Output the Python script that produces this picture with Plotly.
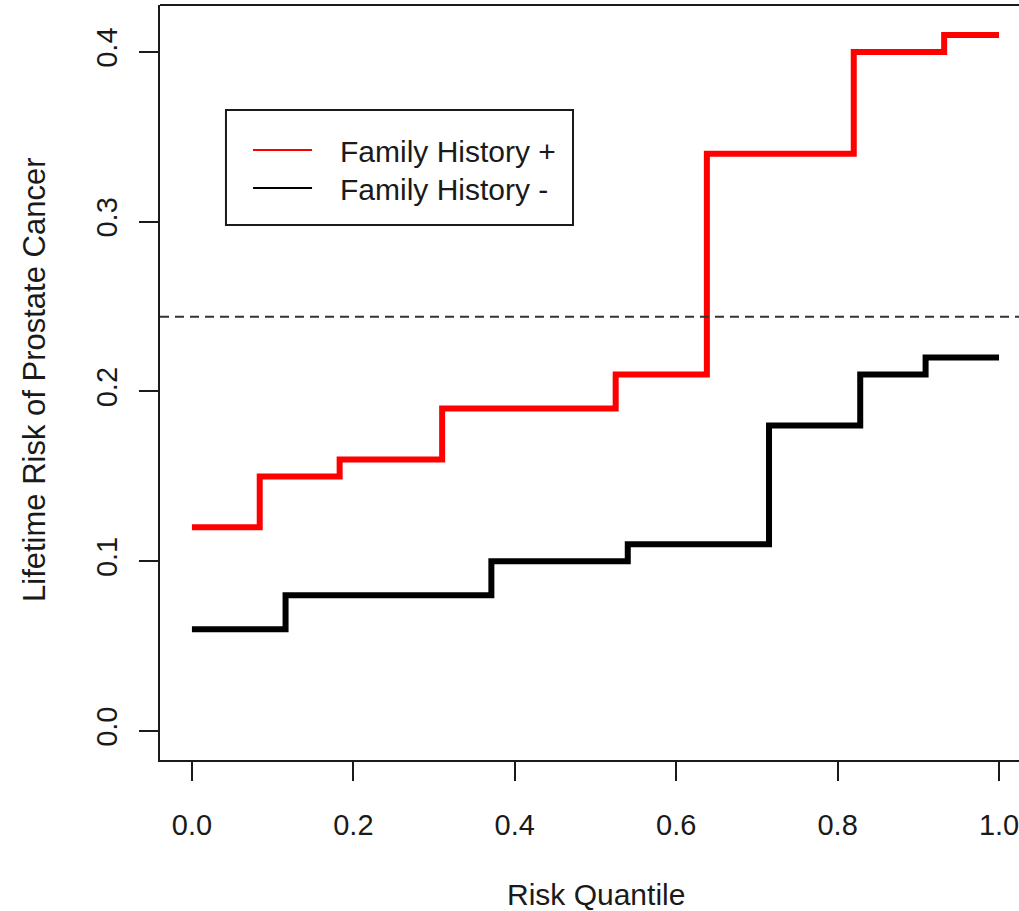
import plotly.graph_objects as go

# Step functions of lifetime risk against risk quantile
fh_pos_x = [0.0, 0.084, 0.183, 0.310, 0.525, 0.638, 0.820, 0.932, 1.0]
fh_pos_y = [0.12, 0.15, 0.16, 0.19, 0.21, 0.34, 0.40, 0.41, 0.41]

fh_neg_x = [0.0, 0.116, 0.371, 0.540, 0.715, 0.828, 0.909, 1.0]
fh_neg_y = [0.06, 0.08, 0.10, 0.11, 0.18, 0.21, 0.22, 0.22]

series_names = ["Family History +", "Family History -"]
series_colors = ["#ff0000", "#000000"]

reference_risk = 0.244

x_ticks = [0.0, 0.2, 0.4, 0.6, 0.8, 1.0]
x_tick_labels = ["0.0", "0.2", "0.4", "0.6", "0.8", "1.0"]
y_ticks = [0.0, 0.1, 0.2, 0.3, 0.4]
y_tick_labels = ["0.0", "0.1", "0.2", "0.3", "0.4"]

FONT = "Liberation Sans, Arial, sans-serif"
INK = "#1a1a1a"

fig = go.Figure()
for xs, ys, name, color in [
    (fh_pos_x, fh_pos_y, series_names[0], series_colors[0]),
    (fh_neg_x, fh_neg_y, series_names[1], series_colors[1]),
]:
    fig.add_trace(go.Scatter(
        x=xs, y=ys, mode="lines", name=name,
        line=dict(shape="hv", color=color, width=6),
        showlegend=False, hoverinfo="skip",
    ))

# horizontal dashed reference level across the whole panel
fig.add_shape(type="line", xref="paper", yref="y", x0=0, x1=1,
              y0=reference_risk, y1=reference_risk,
              line=dict(color="#333333", width=2, dash="9px,6px"))

# top border of the panel (right side runs off the page)
fig.add_shape(type="line", xref="paper", yref="paper", x0=0, x1=1.02,
              y0=1, y1=1, line=dict(color=INK, width=2))

# legend box
fig.add_shape(type="rect", xref="paper", yref="paper",
              x0=0.0768, x1=0.4808, y0=0.7086, y1=0.8609,
              line=dict(color=INK, width=2), fillcolor="white")
legend_rows = [0.8079, 0.7576]
for name, color, yy in zip(series_names, series_colors, legend_rows):
    fig.add_shape(type="line", xref="paper", yref="paper",
                  x0=0.1083, x1=0.1770, y0=yy, y1=yy,
                  line=dict(color=color, width=2))
    fig.add_annotation(xref="paper", yref="paper", x=0.2072, y=yy - 0.002,
                       xanchor="left", yanchor="middle", text=name,
                       showarrow=False, font=dict(family=FONT, size=30, color=INK))

# axis titles
fig.add_annotation(xref="paper", yref="paper", x=(596 - 160) / 859, y=-0.1788,
                   xanchor="center", yanchor="middle", text="Risk Quantile",
                   showarrow=False, font=dict(family=FONT, size=30, color=INK))
fig.add_annotation(xref="paper", yref="paper", x=(34 - 160) / 859, y=(760 - 380) / 755,
                   xanchor="center", yanchor="middle", textangle=-90,
                   text="Lifetime Risk of Prostate Cancer",
                   showarrow=False, font=dict(family=FONT, size=31, color=INK))

fig.update_layout(
    width=1019, height=911,
    margin=dict(l=160, r=0, t=5, b=151),
    paper_bgcolor="white", plot_bgcolor="white",
    font=dict(family=FONT, size=30, color=INK),
    showlegend=False,
)
fig.update_xaxes(
    range=[-32 / 808.75, 1 + 20 / 808.75],
    tickvals=x_ticks, ticktext=x_tick_labels,
    ticks="outside", ticklen=19, tickwidth=2, tickcolor=INK,
    showline=True, linecolor=INK, linewidth=2,
    showgrid=False, zeroline=False,
    tickfont=dict(family=FONT, size=29, color=INK),
    ticklabelstandoff=19, ticklabeloverflow="allow",
)
fig.update_yaxes(
    range=[-29 / 1700, 0.4 + 47 / 1700],
    tickvals=y_ticks, ticktext=y_tick_labels, tickangle=-90,
    ticks="outside", ticklen=19, tickwidth=2, tickcolor=INK,
    showline=True, linecolor=INK, linewidth=2,
    showgrid=False, zeroline=False,
    tickfont=dict(family=FONT, size=29, color=INK),
    ticklabelstandoff=10, ticklabeloverflow="allow",
)

fig.write_html("out.html")
